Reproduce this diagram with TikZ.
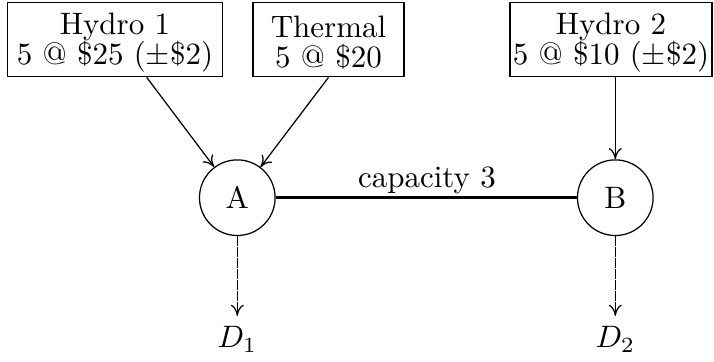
\documentclass[tikz,border=0pt]{standalone}
\usetikzlibrary{calc,arrows.meta}
\begin{document}
\begin{tikzpicture}[x=0.32258pt,y=-0.32258pt,
  >={Computer Modern Rightarrow[length=3.6pt,width=4.2pt]},
  src/.style={draw,rectangle,align=center,inner xsep=0.5pt,inner ysep=1pt,minimum height=23.9pt},
  bus/.style={draw,circle,minimum size=24.4pt,inner sep=0pt},
  flow/.style={->},
  dflow/.style={->,dash pattern=on 3.3pt off 0.25pt},
  tie/.style={thick}]
\useasboundingbox (0,0) rectangle (714,362);
\node[src,minimum width=69.5pt] (h1) at (115,39.7) {\rule{0pt}{9.1pt}Hydro 1\\[-2.3pt]5 @ \$25 ($\pm$\$2)};
\node[src,minimum width=48.7pt] (th) at (328.5,39.7) {\rule{0pt}{9.1pt}Thermal\\[-2.3pt]5 @ \$20};
\node[src,minimum width=65.2pt] (h2) at (611,39.7) {\rule{0pt}{9.1pt}Hydro 2\\[-2.3pt]5 @ \$10 ($\pm$\$2)};
\node[bus] (A) at (237.3,197.7) {A};
\node[bus] (B) at (615.3,197.7) {B};
\node[anchor=base] (d1) at (237.3,348) {$D_1$};
\node[anchor=base] (d2) at (615.3,348) {$D_2$};
\node[anchor=base] (cap) at (427,187.7) {capacity 3};
\coordinate (h1o) at ($(h1.south)+(31.7,0)$);
\draw[flow] (h1o) -- (A);
\draw[flow] (th.south) -- (A);
\draw[dflow] (h2.south -| B) -- (B);
\draw[tie] (A) -- (B);
\draw[dflow] (A) -- (d1);
\draw[dflow] (B) -- (d2);
\end{tikzpicture}
\end{document}
